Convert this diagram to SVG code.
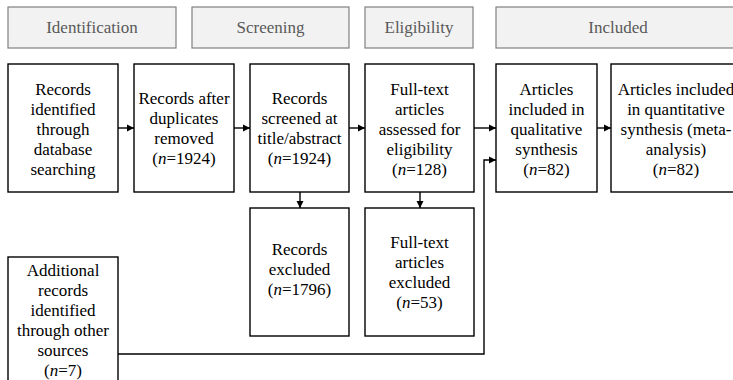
<svg xmlns="http://www.w3.org/2000/svg" width="733" height="380" viewBox="0 0 733 380">
<defs>
<marker id="ah" markerUnits="userSpaceOnUse" markerWidth="8" markerHeight="8" refX="7" refY="4" orient="auto">
<path d="M0,0.5 L7,4 L0,7.5 Z" fill="#000"/>
</marker>
</defs>
<rect width="733" height="380" fill="#fff"/>
<g id="hdr-identification"><rect x="8" y="7" width="168" height="41" fill="#f2f2f2" stroke="#808080" stroke-width="1.2"/><text x="92" y="33" style="font-family:'Liberation Serif',serif" font-size="17" fill="#595959" text-anchor="middle">Identification</text></g>
<g id="hdr-screening"><rect x="192" y="7" width="157" height="41" fill="#f2f2f2" stroke="#808080" stroke-width="1.2"/><text x="270.5" y="33" style="font-family:'Liberation Serif',serif" font-size="17" fill="#595959" text-anchor="middle">Screening</text></g>
<g id="hdr-eligibility"><rect x="365" y="7" width="108" height="41" fill="#f2f2f2" stroke="#808080" stroke-width="1.2"/><text x="419" y="33" style="font-family:'Liberation Serif',serif" font-size="17" fill="#595959" text-anchor="middle">Eligibility</text></g>
<g id="hdr-included"><rect x="496" y="7" width="245" height="41" fill="#f2f2f2" stroke="#808080" stroke-width="1.2"/><text x="618" y="33" style="font-family:'Liberation Serif',serif" font-size="17" fill="#595959" text-anchor="middle">Included</text></g>

<g id="n1"><rect x="8" y="64" width="110" height="128" fill="#fff" stroke="#000" stroke-width="1.4"/>
<text x="63" y="95" style="font-family:'Liberation Serif',serif" font-size="17" text-anchor="middle">Records</text>
<text x="63" y="115" style="font-family:'Liberation Serif',serif" font-size="17" text-anchor="middle">identified</text>
<text x="63" y="135" style="font-family:'Liberation Serif',serif" font-size="17" text-anchor="middle">through</text>
<text x="63" y="155" style="font-family:'Liberation Serif',serif" font-size="17" text-anchor="middle">database</text>
<text x="63" y="175" style="font-family:'Liberation Serif',serif" font-size="17" text-anchor="middle">searching</text></g>
<g id="n2"><rect x="134" y="64" width="100" height="128" fill="#fff" stroke="#000" stroke-width="1.4"/>
<text x="184" y="104" style="font-family:'Liberation Serif',serif" font-size="17" text-anchor="middle">Records after</text>
<text x="184" y="124" style="font-family:'Liberation Serif',serif" font-size="17" text-anchor="middle">duplicates</text>
<text x="184" y="144" style="font-family:'Liberation Serif',serif" font-size="17" text-anchor="middle">removed</text>
<text x="184" y="164" style="font-family:'Liberation Serif',serif" font-size="17" text-anchor="middle">(<tspan font-style="italic">n</tspan>=1924)</text></g>
<g id="n3"><rect x="250" y="64" width="99" height="128" fill="#fff" stroke="#000" stroke-width="1.4"/>
<text x="299.5" y="104" style="font-family:'Liberation Serif',serif" font-size="17" text-anchor="middle">Records</text>
<text x="299.5" y="124" style="font-family:'Liberation Serif',serif" font-size="17" text-anchor="middle">screened at</text>
<text x="299.5" y="144" style="font-family:'Liberation Serif',serif" font-size="17" text-anchor="middle">title/abstract</text>
<text x="299.5" y="164" style="font-family:'Liberation Serif',serif" font-size="17" text-anchor="middle">(<tspan font-style="italic">n</tspan>=1924)</text></g>
<g id="n4"><rect x="365" y="64" width="109" height="128" fill="#fff" stroke="#000" stroke-width="1.4"/>
<text x="419.5" y="95" style="font-family:'Liberation Serif',serif" font-size="17" text-anchor="middle">Full-text</text>
<text x="419.5" y="115" style="font-family:'Liberation Serif',serif" font-size="17" text-anchor="middle">articles</text>
<text x="419.5" y="135" style="font-family:'Liberation Serif',serif" font-size="17" text-anchor="middle">assessed for</text>
<text x="419.5" y="155" style="font-family:'Liberation Serif',serif" font-size="17" text-anchor="middle">eligibility</text>
<text x="419.5" y="175" style="font-family:'Liberation Serif',serif" font-size="17" text-anchor="middle">(<tspan font-style="italic">n</tspan>=128)</text></g>
<g id="n5"><rect x="496" y="64" width="101" height="128" fill="#fff" stroke="#000" stroke-width="1.4"/>
<text x="546.5" y="95" style="font-family:'Liberation Serif',serif" font-size="17" text-anchor="middle">Articles</text>
<text x="546.5" y="115" style="font-family:'Liberation Serif',serif" font-size="17" text-anchor="middle">included in</text>
<text x="546.5" y="135" style="font-family:'Liberation Serif',serif" font-size="17" text-anchor="middle">qualitative</text>
<text x="546.5" y="155" style="font-family:'Liberation Serif',serif" font-size="17" text-anchor="middle">synthesis</text>
<text x="546.5" y="175" style="font-family:'Liberation Serif',serif" font-size="17" text-anchor="middle">(<tspan font-style="italic">n</tspan>=82)</text></g>
<g id="n6"><rect x="611" y="64" width="130" height="128" fill="#fff" stroke="#000" stroke-width="1.4"/>
<text x="676" y="95" style="font-family:'Liberation Serif',serif" font-size="17" text-anchor="middle">Articles included</text>
<text x="676" y="115" style="font-family:'Liberation Serif',serif" font-size="17" text-anchor="middle">in quantitative</text>
<text x="676" y="135" style="font-family:'Liberation Serif',serif" font-size="17" text-anchor="middle">synthesis (meta-</text>
<text x="676" y="155" style="font-family:'Liberation Serif',serif" font-size="17" text-anchor="middle">analysis)</text>
<text x="676" y="175" style="font-family:'Liberation Serif',serif" font-size="17" text-anchor="middle">(<tspan font-style="italic">n</tspan>=82)</text></g>
<g id="n7"><rect x="250" y="208" width="99" height="128" fill="#fff" stroke="#000" stroke-width="1.4"/>
<text x="299.5" y="255" style="font-family:'Liberation Serif',serif" font-size="17" text-anchor="middle">Records</text>
<text x="299.5" y="275" style="font-family:'Liberation Serif',serif" font-size="17" text-anchor="middle">excluded</text>
<text x="299.5" y="295" style="font-family:'Liberation Serif',serif" font-size="17" text-anchor="middle">(<tspan font-style="italic">n</tspan>=1796)</text></g>
<g id="n8"><rect x="365" y="208" width="109" height="128" fill="#fff" stroke="#000" stroke-width="1.4"/>
<text x="419.5" y="248" style="font-family:'Liberation Serif',serif" font-size="17" text-anchor="middle">Full-text</text>
<text x="419.5" y="268" style="font-family:'Liberation Serif',serif" font-size="17" text-anchor="middle">articles</text>
<text x="419.5" y="288" style="font-family:'Liberation Serif',serif" font-size="17" text-anchor="middle">excluded</text>
<text x="419.5" y="308" style="font-family:'Liberation Serif',serif" font-size="17" text-anchor="middle">(<tspan font-style="italic">n</tspan>=53)</text></g>
<g id="n9"><rect x="8" y="257" width="110" height="140" fill="#fff" stroke="#000" stroke-width="1.4"/>
<text x="63" y="276" style="font-family:'Liberation Serif',serif" font-size="17" text-anchor="middle">Additional</text>
<text x="63" y="296" style="font-family:'Liberation Serif',serif" font-size="17" text-anchor="middle">records</text>
<text x="63" y="316" style="font-family:'Liberation Serif',serif" font-size="17" text-anchor="middle">identified</text>
<text x="63" y="336" style="font-family:'Liberation Serif',serif" font-size="17" text-anchor="middle">through other</text>
<text x="63" y="356" style="font-family:'Liberation Serif',serif" font-size="17" text-anchor="middle">sources</text>
<text x="63" y="376" style="font-family:'Liberation Serif',serif" font-size="17" text-anchor="middle">(<tspan font-style="italic">n</tspan>=7)</text></g>

<g id="connectors" fill="none" stroke="#000" stroke-width="1.4">
<line x1="118" y1="128" x2="134" y2="128" marker-end="url(#ah)"/>
<line x1="234" y1="128" x2="250" y2="128" marker-end="url(#ah)"/>
<line x1="349" y1="128" x2="365" y2="128" marker-end="url(#ah)"/>
<line x1="474" y1="128" x2="496" y2="128" marker-end="url(#ah)"/>
<line x1="597" y1="128" x2="611" y2="128" marker-end="url(#ah)"/>
<line x1="300" y1="192" x2="300" y2="208" marker-end="url(#ah)"/>
<line x1="420" y1="192" x2="420" y2="208" marker-end="url(#ah)"/>
<polyline points="118,354 484,354 484,160 496,160" marker-end="url(#ah)"/>
</g>
</svg>
